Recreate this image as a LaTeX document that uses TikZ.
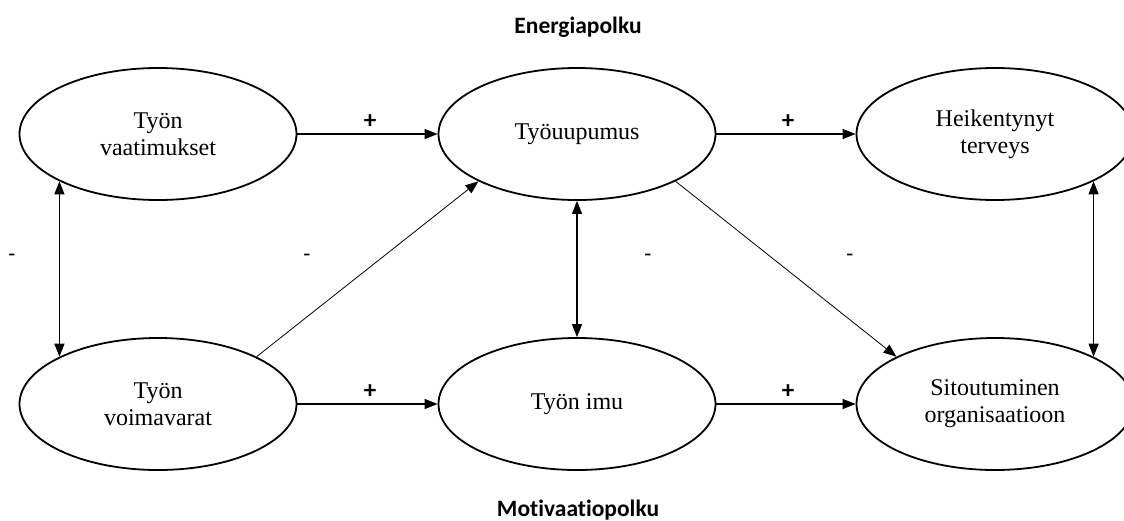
\documentclass[tikz,border=0pt]{standalone}
\usepackage{fontspec}
\setmainfont{Liberation Serif}
\newfontfamily\labfont[Ligatures=NoCommon]{Carlito}
\usetikzlibrary{shapes.geometric,arrows.meta}
\tikzset{
  construct/.style={ellipse,draw,line width=1.8pt,minimum width=277pt,minimum height=132pt,inner sep=0pt,align=center,font=\fontsize{24}{27}\selectfont},
  conn/.style={line width=1.1pt,-{Triangle[length=13pt,width=10pt]}},
  biconn/.style={line width=1.1pt,{Triangle[length=13pt,width=10pt]}-{Triangle[length=13pt,width=10pt]}},
  diag/.style={line width=0.8pt,-{Triangle[length=13pt,width=10pt]}},
  sign/.style={font=\labfont\bfseries\fontsize{25}{28}\selectfont,inner sep=0pt},
  minus/.style={font=\labfont\fontsize{23}{26}\selectfont,inner sep=0pt},
  title/.style={font=\labfont\bfseries\fontsize{23.5}{27}\selectfont,inner sep=0pt,anchor=base}
}
\begin{document}
\begin{tikzpicture}[x=1pt,y=-1pt]
\useasboundingbox (0,0) rectangle (1124,520);
\node[construct] (tv) at (158,134) {Työn\\vaatimukset};
\node[construct] (tu) at (577,134) {Työuupumus};
\node[construct] (ht) at (995,134) {Heikentynyt\\terveys};
\node[construct] (vv) at (158,404) {Työn\\voimavarat};
\node[construct] (ti) at (577,404) {Työn imu};
\node[construct] (so) at (995,404) {Sitoutuminen\\organisaatioon};

\node[title] (e) at (578,33) {Energiapolku};
\node[title] (m) at (578,516) {Motivaat\kern0pt iopolku};

\draw[conn] (tv) -- (tu);
\draw[conn] (tu) -- (ht);
\draw[conn] (vv) -- (ti);
\draw[conn] (ti) -- (so);
\draw[biconn] (tv.south west) -- (vv.north west);
\draw[biconn] (tu.south) -- (ti.north);
\draw[biconn] (ht.south east) -- (so.north east);
\draw[diag] (vv.north east) -- (tu.south west);
\draw[diag] (tu.south east) -- (so.north west);

\node[sign] (p1) at (370,122) {+};
\node[sign] (p2) at (788,122) {+};
\node[sign] (p3) at (370,392) {+};
\node[sign] (p4) at (788,392) {+};
\node[minus] (m1) at (12,258) {-};
\node[minus] (m2) at (307,258) {-};
\node[minus] (m3) at (648,258) {-};
\node[minus] (m4) at (850,258) {-};
\end{tikzpicture}
\end{document}
